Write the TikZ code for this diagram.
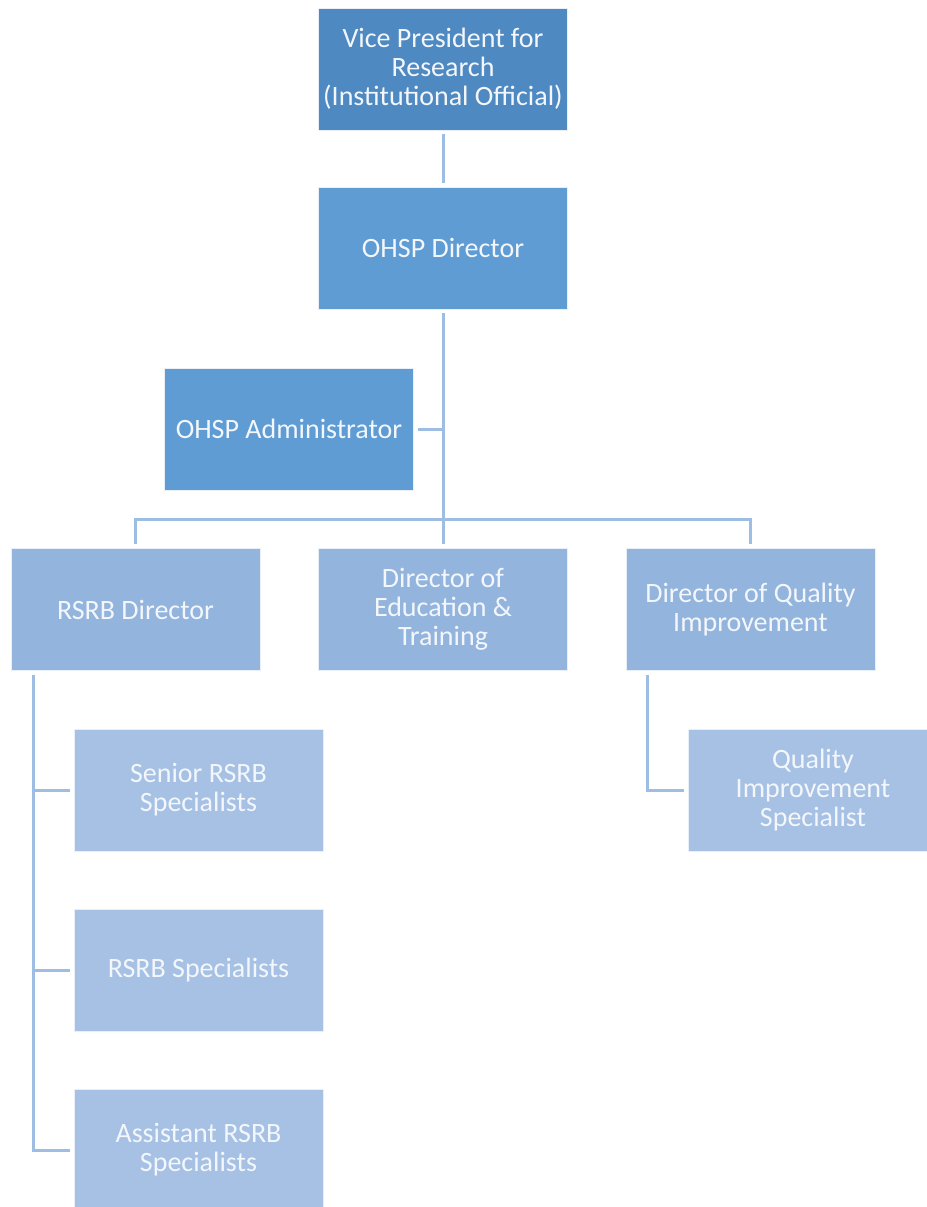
\documentclass[tikz,border=0pt]{standalone}
\usepackage{fontspec}
\setmainfont{Carlito}
\usepackage{xcolor}
\usetikzlibrary{positioning,calc}

\begin{document}
\begin{tikzpicture}[x=0.5pt, y=-0.5pt, every node/.style={font=\fontsize{14}{14.5}\selectfont}]
    % Palette
    \definecolor{topColor}{HTML}{4F89C1}
    \definecolor{midColor}{HTML}{5F9CD4}
    \definecolor{lowColor}{HTML}{93B4DD}
    \definecolor{subColor}{HTML}{A6C1E3}
    \definecolor{linkColor}{HTML}{9DBDE3}
    \definecolor{textColor}{HTML}{F3F7FC}

    \tikzset{
        box/.style={draw=white!75!subColor, line width=0.4pt, text=textColor, align=center,
                    minimum width=124.5pt, minimum height=61pt, inner sep=0pt},
        link/.style={draw=linkColor, line width=1.5pt, shorten <=2pt, shorten >=2pt}
    }

    \useasboundingbox (0,0) rectangle (927,1207);

    % --- Top ---
    \node[box, fill=topColor] (vp) at (443,69) {Vice President for\\Research\\(Institutional Official)};
    \node[box, fill=midColor] (ohspdir) at (443,248) {OHSP Director};
    \node[box, fill=midColor] (ohspadmin) at (289,429) {OHSP Administrator};

    % --- Directors ---
    \node[box, fill=lowColor] (rsrbdir) at (135.5,609.5) {RSRB Director};
    \node[box, fill=lowColor] (edudir) at (443,609.5) {Director of\\Education \&\\Training};
    \node[box, fill=lowColor] (qidir) at (750.5,609.5) {Director of Quality\\Improvement};

    % --- Staff ---
    \node[box, fill=subColor] (senior) at (198.5,790) {Senior RSRB\\Specialists};
    \node[box, fill=subColor] (rsrbspec) at (198.5,970) {RSRB Specialists};
    \node[box, fill=subColor] (assistant) at (198.5,1150) {Assistant RSRB\\Specialists};
    \node[box, fill=subColor, minimum width=125pt] (qispec) at (813,790) {Quality\\Improvement\\Specialist};

    % --- Connectors ---
    \coordinate (bar) at (443,519);
    \draw[link] (vp) -- (ohspdir);
    \draw[link] (ohspdir) -- (edudir);
    \draw[link, shorten >=0pt] (ohspadmin.east) -- (ohspadmin.east -| ohspdir.south);
    \draw[link] (rsrbdir.north) |- (bar) -| (qidir.north);

    \coordinate (rsrbtrunk) at ($(rsrbdir.south west)+(23,0)$);
    \draw[link] (rsrbtrunk) |- (assistant.west);
    \draw[link, shorten <=0pt] (rsrbtrunk |- senior.west) -- (senior.west);
    \draw[link, shorten <=0pt] (rsrbtrunk |- rsrbspec.west) -- (rsrbspec.west);

    \coordinate (qitrunk) at ($(qidir.south west)+(22,0)$);
    \draw[link] (qitrunk) |- (qispec.west);

\end{tikzpicture}
\end{document}
